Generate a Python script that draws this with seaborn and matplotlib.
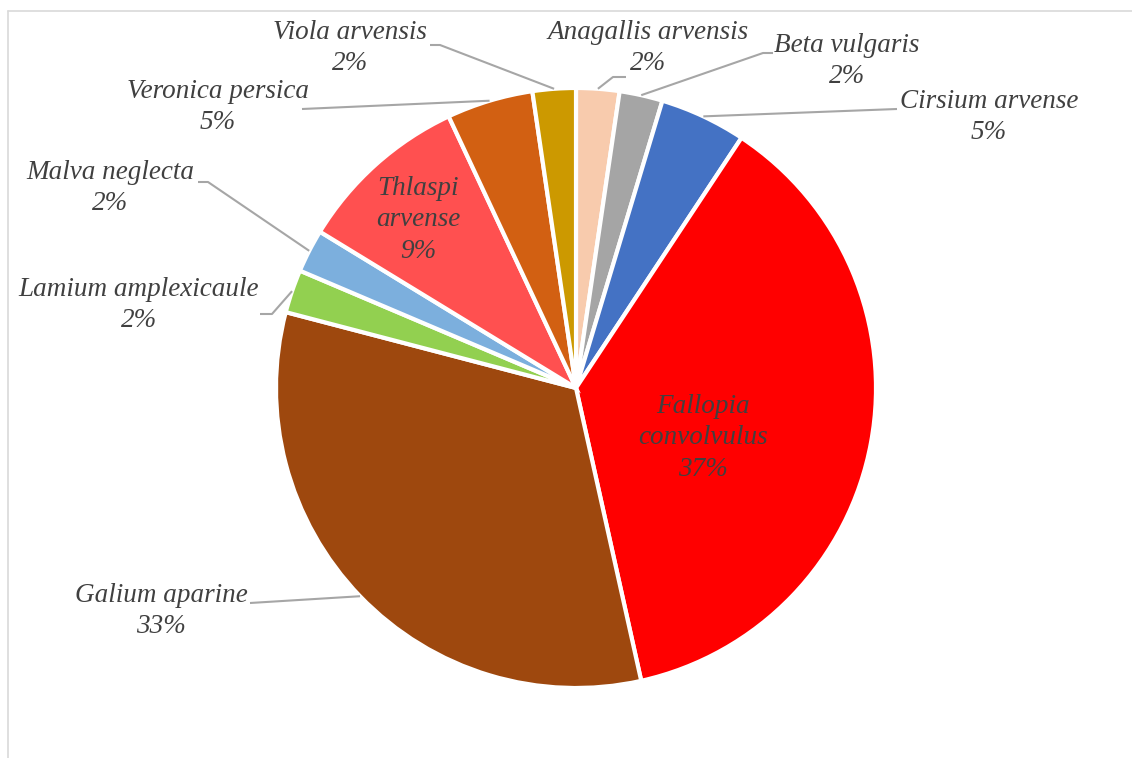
import matplotlib
matplotlib.use("Agg")
import matplotlib.pyplot as plt
import seaborn as sns
import numpy as np

species = ["Anagallis arvensis", "Beta vulgaris", "Cirsium arvense",
           "Fallopia convolvulus", "Galium aparine", "Lamium amplexicaule",
           "Malva neglecta", "Thlaspi arvense", "Veronica persica", "Viola arvensis"]
counts = [1, 1, 2, 16, 14, 1, 1, 4, 2, 1]
colors = ["#F8CBAD", "#A5A5A5", "#4472C4", "#FF0000", "#9E480E",
          "#92D050", "#7CAFDD", "#FF5050", "#D26012", "#CC9900"]

sns.set_theme(style="white")
plt.rcParams["font.family"] = ["Liberation Serif", "DejaVu Serif"]

W, H = 1132, 758
fig = plt.figure(figsize=(W / 100, H / 100), dpi=100)
ax = fig.add_axes([0, 0, 1, 1])

def P(x, y):
    return (x, H - y)

cx, cy, R = 576, 388, 300
wedges, _ = ax.pie(counts, colors=sns.color_palette(colors), startangle=90,
                   counterclock=False, radius=R, center=P(cx, cy),
                   wedgeprops=dict(edgecolor="white", linewidth=3.0),
                   frame=True)
ax.set_xlim(0, W)
ax.set_ylim(0, H)
ax.set_aspect("equal")
ax.axis("off")

total = sum(counts)
pcts = [f"{round(100 * c / total)}%" for c in counts]

# label layout: (text center x, text center y, leader elbow points or None)
layout = {
    "Anagallis arvensis": (648, 48, [(613, 77), (626, 77)]),
    "Beta vulgaris": (847, 61, [(763, 53), (773, 53)]),
    "Cirsium arvense": (989, 117, [(897, 109)]),
    "Fallopia convolvulus": (703, 438, None),
    "Galium aparine": (161, 611, [(250, 603)]),
    "Lamium amplexicaule": (139, 305, [(272, 314), (260, 314)]),
    "Malva neglecta": (110, 188, [(208, 182), (198, 182)]),
    "Thlaspi arvense": (418, 220, None),
    "Veronica persica": (218, 107, [(302, 109)]),
    "Viola arvensis": (350, 48, [(440, 45), (430, 45)]),
}
inside_text = {"Fallopia convolvulus": "Fallopia\nconvolvulus",
               "Thlaspi arvense": "Thlaspi\narvense"}

tcol = "#404040"
for w, name, pct in zip(wedges, species, pcts):
    tx, ty, pts = layout[name]
    label = inside_text.get(name, name) + "\n" + pct
    ax.text(*P(tx, ty), label, ha="center", va="center", fontsize=19.5,
            style="italic", color=tcol, linespacing=1.32)
    if pts:
        ang = np.deg2rad((w.theta1 + w.theta2) / 2)
        ax_x = w.center[0] + R * np.cos(ang)
        ax_y = w.center[1] + R * np.sin(ang)
        xs = [ax_x] + [p[0] for p in pts]
        ys = [ax_y] + [H - p[1] for p in pts]
        ax.plot(xs, ys, color="#A6A6A6", lw=1.5, solid_capstyle="butt")

# chart border (top and left visible)
ax.plot([8, W], [H - 11, H - 11], color="#D9D9D9", lw=1.2)
ax.plot([8, 8], [H - 11, 0], color="#D9D9D9", lw=1.2)

fig.savefig("out.png", dpi=100, facecolor="white")
